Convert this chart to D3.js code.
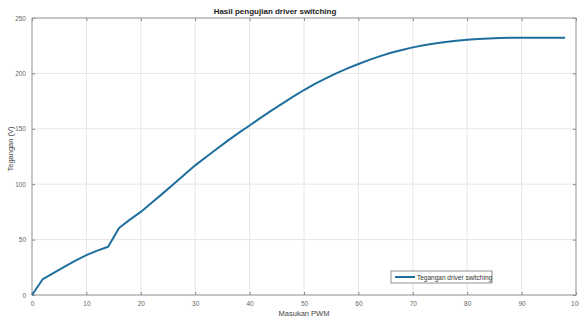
<!DOCTYPE html>
<html>
<head>
<meta charset="utf-8">
<script src="https://cdn.jsdelivr.net/npm/d3@7"></script>
<style>
  body { margin: 0; background: #fff; }
  text { font-family: "Liberation Sans", Arial, sans-serif; }
</style>
</head>
<body>
<div id="my_dataviz"></div>
<script>
// data
var pwm = [0, 2, 4, 6, 8, 10, 12, 14, 16, 18, 20, 22, 24, 26, 28, 30, 32, 34, 36, 38,
           40, 42, 44, 46, 48, 50, 52, 54, 56, 58, 60, 62, 64, 66, 68, 70, 72, 74, 76, 78,
           80, 82, 84, 86, 88, 90, 92, 94, 96, 98];
var tegangan = [0, 14.4, 20, 25.5, 31, 36, 40, 43.5, 60.5, 68, 75, 83.2, 91.5, 100, 108.5, 117, 124.5, 132, 139.3, 146.3,
                153, 159.8, 166.4, 172.8, 179, 185, 190.5, 195.5, 200.2, 204.5, 208.5, 212.2, 215.6, 218.6, 221.2, 223.5, 225.4, 227, 228.4, 229.5,
                230.4, 231, 231.5, 231.9, 232.1, 232.2, 232.2, 232.2, 232.2, 232.2];
var xTicks = [0, 10, 20, 30, 40, 50, 60, 70, 80, 90, 100];
var yTicks = [0, 50, 100, 150, 200, 250];
var seriesName = "Tegangan driver switching";

// set the dimensions and margins of the graph
var margin = {top: 18, right: 3, bottom: 25, left: 32},
    width = 579 - margin.left - margin.right,
    height = 320 - margin.top - margin.bottom;

var svg = d3.select("#my_dataviz")
  .append("svg")
    .attr("width", 579)
    .attr("height", 320)
  .append("g")
    .attr("transform", "translate(" + margin.left + "," + margin.top + ")");

var x = d3.scaleLinear().domain([0, 100]).range([0, width]);
var y = d3.scaleLinear().domain([0, 250]).range([height, 0]);

// grid
svg.selectAll(".gx").data(xTicks).enter().append("line")
  .attr("x1", function(d) { return x(d); }).attr("x2", function(d) { return x(d); })
  .attr("y1", 0).attr("y2", height)
  .style("stroke", "#e6e6e6").style("stroke-width", 1);
svg.selectAll(".gy").data(yTicks).enter().append("line")
  .attr("x1", 0).attr("x2", width)
  .attr("y1", function(d) { return y(d); }).attr("y2", function(d) { return y(d); })
  .style("stroke", "#e6e6e6").style("stroke-width", 1);

// axes, ticks pointing inward like matlab
var styleAxis = function(g) {
  g.select(".domain").remove();
  g.selectAll(".tick line").style("stroke", "#888");
  g.selectAll("text").style("fill", "#666").style("font-size", "6.5px");
};
svg.append("g").attr("transform", "translate(0," + height + ")")
  .call(d3.axisBottom(x).tickValues(xTicks).tickSizeInner(-3).tickSizeOuter(0).tickPadding(6))
  .call(styleAxis);
svg.append("g")
  .call(d3.axisTop(x).tickValues(xTicks).tickSizeInner(-3).tickSizeOuter(0).tickFormat(""))
  .call(styleAxis);
svg.append("g")
  .call(d3.axisLeft(y).tickValues(yTicks).tickSizeInner(-3).tickSizeOuter(0).tickPadding(6))
  .call(styleAxis);
svg.append("g").attr("transform", "translate(" + width + ",0)")
  .call(d3.axisRight(y).tickValues(yTicks).tickSizeInner(-3).tickSizeOuter(0).tickFormat(""))
  .call(styleAxis);

// box
svg.append("rect")
  .attr("x", 0).attr("y", 0).attr("width", width).attr("height", height)
  .style("fill", "none").style("stroke", "#999").style("stroke-width", 1);

// the line
var line = d3.line()
  .x(function(d, i) { return x(pwm[i]); })
  .y(function(d) { return y(d); });
svg.append("path")
  .datum(tegangan)
  .attr("d", line)
  .style("fill", "none")
  .style("stroke", "#1f6f9e")
  .style("stroke-width", 2)
  .style("stroke-linejoin", "round");

// labels
svg.append("text")
  .attr("x", 275 - margin.left).attr("y", -4)
  .attr("text-anchor", "middle")
  .style("font-size", "8px").style("font-weight", "bold").style("fill", "#222")
  .text("Hasil pengujian driver switching");
svg.append("text")
  .attr("x", width / 2).attr("y", height + 21)
  .attr("text-anchor", "middle")
  .style("font-size", "7.5px").style("fill", "#444")
  .text("Masukan PWM");
svg.append("text")
  .attr("transform", "translate(" + (13 - margin.left) + "," + (149 - margin.top) + ") rotate(-90)")
  .attr("text-anchor", "middle")
  .style("font-size", "7.5px").style("fill", "#444")
  .text("Tegangan (V)");

// legend
var legend = svg.append("g").attr("transform", "translate(" + (391 - margin.left) + "," + (271 - margin.top) + ")");
legend.append("rect")
  .attr("width", 101).attr("height", 12)
  .style("fill", "#fff").style("stroke", "#777").style("stroke-width", 0.8);
legend.append("line")
  .attr("x1", 4).attr("x2", 24).attr("y1", 6).attr("y2", 6)
  .style("stroke", "#1f6f9e").style("stroke-width", 2);
legend.append("text")
  .attr("x", 26).attr("y", 8.5)
  .style("font-size", "6.5px").style("fill", "#333")
  .text(seriesName);
</script>
</body>
</html>
